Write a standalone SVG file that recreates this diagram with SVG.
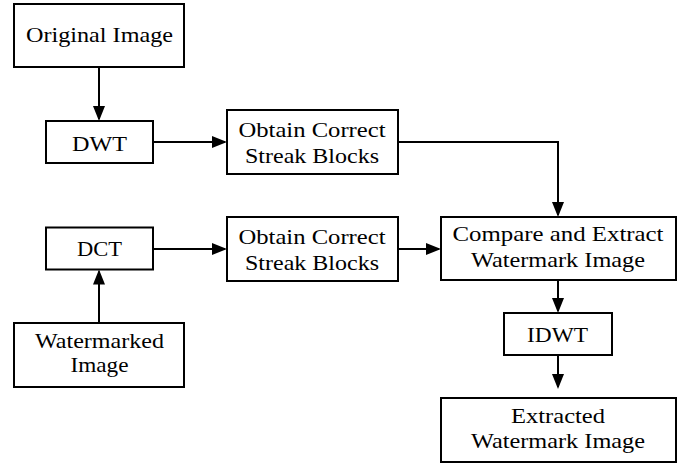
<svg xmlns="http://www.w3.org/2000/svg" width="694" height="466" viewBox="0 0 694 466">
<style>
.box{fill:#fff;stroke:#000;stroke-width:2}
.lbl{font-family:"Liberation Serif","Times New Roman",serif;font-size:21px;fill:#000;text-anchor:middle}
.edge{fill:none;stroke:#000;stroke-width:2}
</style>
<defs>
<marker id="ah" markerUnits="userSpaceOnUse" markerWidth="16" markerHeight="13" refX="13" refY="6" orient="auto">
<path d="M0,0 L15,6 L0,12 z" fill="#000"/>
</marker>
</defs>
<rect width="694" height="466" fill="#fff"/>
<g id="connectors">
<path class="edge" d="M99,67 V119" marker-end="url(#ah)"/>
<path class="edge" d="M153,142 H225" marker-end="url(#ah)"/>
<path class="edge" d="M398,142 H558 V215" marker-end="url(#ah)"/>
<path class="edge" d="M153,249 H225" marker-end="url(#ah)"/>
<path class="edge" d="M99,323 V271.5" marker-end="url(#ah)"/>
<path class="edge" d="M398,249 H439" marker-end="url(#ah)"/>
<path class="edge" d="M558,280 V311" marker-end="url(#ah)"/>
<path class="edge" d="M558,355 V387" marker-end="url(#ah)"/>
</g>
<g id="original">
<rect class="box" x="14" y="4" width="170" height="63"/>
<text class="lbl" x="99.5" y="42" textLength="147" lengthAdjust="spacingAndGlyphs">Original Image</text>
</g>
<g id="dwt">
<rect class="box" x="46" y="121" width="107" height="42"/>
<text class="lbl" x="99.5" y="150.5" textLength="55" lengthAdjust="spacingAndGlyphs">DWT</text>
</g>
<g id="obtain1">
<rect class="box" x="227" y="110" width="171" height="64"/>
<text class="lbl" x="312" y="136.7" textLength="147" lengthAdjust="spacingAndGlyphs">Obtain Correct</text>
<text class="lbl" x="312" y="162.7" textLength="134" lengthAdjust="spacingAndGlyphs">Streak Blocks</text>
</g>
<g id="dct">
<rect class="box" x="46" y="227.5" width="107" height="42"/>
<text class="lbl" x="99.5" y="256" textLength="45" lengthAdjust="spacingAndGlyphs">DCT</text>
</g>
<g id="obtain2">
<rect class="box" x="227" y="217" width="171" height="64"/>
<text class="lbl" x="312" y="243.7" textLength="147" lengthAdjust="spacingAndGlyphs">Obtain Correct</text>
<text class="lbl" x="312" y="269.7" textLength="134" lengthAdjust="spacingAndGlyphs">Streak Blocks</text>
</g>
<g id="watermarked">
<rect class="box" x="14" y="323" width="170" height="64"/>
<text class="lbl" x="99.5" y="348.3" textLength="129" lengthAdjust="spacingAndGlyphs">Watermarked</text>
<text class="lbl" x="99.5" y="371.7" textLength="58" lengthAdjust="spacingAndGlyphs">Image</text>
</g>
<g id="compare">
<rect class="box" x="441" y="217" width="235" height="63"/>
<text class="lbl" x="558" y="241" textLength="211" lengthAdjust="spacingAndGlyphs">Compare and Extract</text>
<text class="lbl" x="558" y="266.7" textLength="174" lengthAdjust="spacingAndGlyphs">Watermark Image</text>
</g>
<g id="idwt">
<rect class="box" x="504" y="313" width="108" height="42"/>
<text class="lbl" x="557.5" y="341.7" textLength="61" lengthAdjust="spacingAndGlyphs">IDWT</text>
</g>
<g id="extracted">
<rect class="box" x="441" y="398" width="235" height="64"/>
<text class="lbl" x="558" y="423.3" textLength="94" lengthAdjust="spacingAndGlyphs">Extracted</text>
<text class="lbl" x="558" y="448.3" textLength="174" lengthAdjust="spacingAndGlyphs">Watermark Image</text>
</g>
</svg>
